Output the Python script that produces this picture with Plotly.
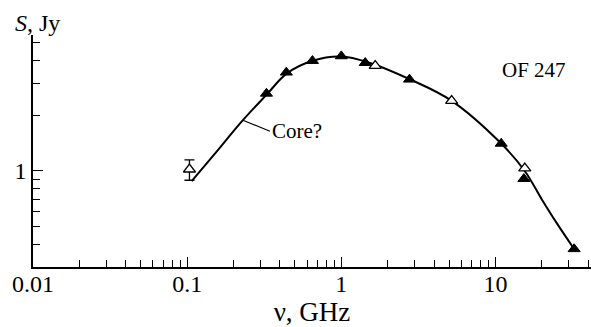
import numpy as np
import plotly.graph_objects as go

# Data (GHz, Jy)
filled_freq = [0.327, 0.44, 0.65, 1.0, 1.43, 2.77, 10.9, 15.3, 32.4]
filled_flux = [2.64, 3.44, 3.98, 4.22, 3.88, 3.15, 1.41, 0.906, 0.376]
open_freq = [1.66, 5.2, 15.5]
open_flux = [3.74, 2.41, 1.035]
err_freq = [0.1035]
err_flux = [1.02]
err_size = [0.13]
curve_freq = [0.107, 0.15, 0.23, 0.33, 0.44, 0.65, 1.0, 1.5, 2.8, 5.2, 10.9, 15.5, 20, 25, 32.4]
curve_flux = [0.88, 1.23, 1.89, 2.62, 3.38, 3.98, 4.2, 3.9, 3.15, 2.41, 1.41, 1.0, 0.70, 0.52, 0.376]

FONT = "Times New Roman, Liberation Serif, serif"
MS = 10.5

fig = go.Figure()
fig.add_trace(go.Scatter(x=curve_freq, y=curve_flux, mode="lines",
                         line=dict(color="black", width=2, shape="spline", smoothing=1.0),
                         hoverinfo="skip", showlegend=False))
fig.add_trace(go.Scatter(x=err_freq, y=err_flux, mode="markers",
                         marker=dict(symbol="triangle-up", size=MS, color="white",
                                     line=dict(color="black", width=1.3)),
                         error_y=dict(type="data", array=err_size, color="black",
                                      thickness=1.3, width=5),
                         showlegend=False))
fig.add_trace(go.Scatter(x=filled_freq, y=filled_flux, mode="markers",
                         marker=dict(symbol="triangle-up", size=MS, color="black",
                                     line=dict(color="black", width=1)),
                         showlegend=False))
fig.add_trace(go.Scatter(x=open_freq, y=open_flux, mode="markers",
                         marker=dict(symbol="triangle-up", size=MS, color="white",
                                     line=dict(color="black", width=1.3)),
                         showlegend=False))

fig.update_layout(
    width=591, height=327,
    margin=dict(l=33, r=0, t=35, b=60),
    paper_bgcolor="white", plot_bgcolor="white",
    font=dict(family=FONT, size=22, color="black"),
    xaxis=dict(type="log", range=[-2, 1.62], showgrid=False, zeroline=False,
               showline=True, linecolor="black", linewidth=1.5,
               ticks="inside", ticklen=10, tickwidth=1.2, tickcolor="black",
               tickvals=[0.01, 0.1, 1, 10], ticktext=["0.01", "0.1", "1", "10"],
               ticklabelstandoff=-6,
               minor=dict(ticks="inside", ticklen=7, tickwidth=1.2, tickcolor="black",
                          tickvals=[k * 10.0 ** e for e in (-2, -1, 0, 1) for k in range(2, 10)],
                          showgrid=False),
               tickfont=dict(family=FONT, size=24),
               title=dict(text="ν, GHz", font=dict(family=FONT, size=27), standoff=2)),
    yaxis=dict(type="log", range=[np.log10(0.3), np.log10(5.5)], showgrid=False, zeroline=False,
               showline=True, linecolor="black", linewidth=1.5,
               ticks="inside", ticklen=10, tickwidth=1.2, tickcolor="black",
               tickvals=[1], ticktext=["1"],
               minor=dict(ticks="inside", ticklen=7, tickwidth=1.2, tickcolor="black",
                          tickvals=[0.3, 0.4, 0.5, 0.6, 0.7, 0.8, 0.9, 2, 3, 4, 5],
                          showgrid=False),
               tickfont=dict(family=FONT, size=24)),
    annotations=[
        dict(x=(13 - 33) / 558, y=(267 - 23) / 232, xref="paper", yref="paper",
             text="<i>S</i>, Jy", showarrow=False, xanchor="left", yanchor="middle",
             font=dict(family=FONT, size=24)),
        dict(x=(534 - 33) / 558, y=(267 - 70) / 232, xref="paper", yref="paper",
             text="OF 247", showarrow=False, xanchor="center", yanchor="middle",
             font=dict(family=FONT, size=21)),
        dict(x=np.log10(0.23), y=np.log10(1.89), xref="x", yref="y",
             text="Core?", showarrow=True, arrowhead=0, arrowwidth=1.2, arrowcolor="black",
             ax=27, ay=11, xanchor="left", yanchor="middle",
             font=dict(family=FONT, size=21)),
    ],
)

fig.write_html("out.html")
